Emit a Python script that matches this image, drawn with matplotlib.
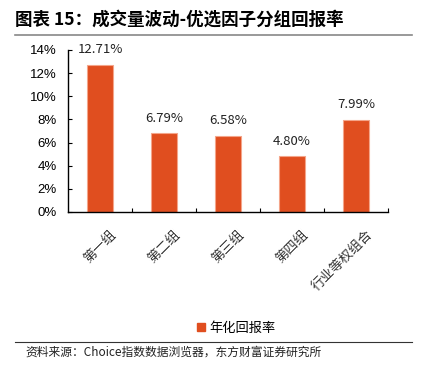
import matplotlib
matplotlib.use('Agg')
from matplotlib import pyplot as plt
from matplotlib.lines import Line2D

plt.rcParams['font.family'] = ['Noto Sans CJK SC', 'DejaVu Sans']

# 数据
groups = ['第一组', '第二组', '第三组', '第四组', '行业等权组合']
returns = [12.71, 6.79, 6.58, 4.80, 7.99]
yticks = [0, 2, 4, 6, 8, 10, 12, 14]
title = '图表 15：成交量波动-优选因子分组回报率'
legendName = '年化回报率'
source = '资料来源：Choice指数数据浏览器，东方财富证券研究所'

barColor = '#E04E1F'

fig = plt.figure(figsize=(4.22, 3.71), dpi=100)
ax = fig.add_axes([68 / 422, 1 - 212 / 371, (388 - 68) / 422, (212 - 50) / 371])

x = range(len(groups))
ax.bar(x, returns, width=0.4, color=barColor, edgecolor='#F4A58A', linewidth=0.8)
for i, v in enumerate(returns):
    ax.text(i, v + 0.75, '%.2f%%' % v, ha='center', va='bottom', fontsize=9.5, color='#222222')

ax.set_xlim(-0.5, len(groups) - 0.5)
ax.set_ylim(0, 14)
ax.set_yticks(yticks)
ax.set_yticklabels(['%d%%' % t for t in yticks], family=['Liberation Sans', 'DejaVu Sans'], fontsize=9.5)
ax.set_xticks([i + 0.5 for i in range(len(groups))])
ax.set_xticklabels([])
ax.tick_params(axis='y', direction='in', length=3, width=0.8, pad=8)
ax.tick_params(axis='x', direction='in', length=3, width=0.8)
for i, g in enumerate(groups):
    ax.text(i + 0.15, -1.4, g, rotation=45, ha='right', va='top', fontsize=9.5,
            color='#333333', rotation_mode='anchor')
for s in ['top', 'right']:
    ax.spines[s].set_visible(False)
ax.spines['left'].set_linewidth(1.0)
ax.spines['bottom'].set_linewidth(1.0)

# 标题与分隔线
fig.text(15 / 422, 1 - 20 / 371, title, fontsize=12.6, fontweight='bold', va='center', ha='left')
fig.add_artist(Line2D([15 / 422, 412 / 422], [1 - 35 / 371, 1 - 35 / 371], color='#888888', linewidth=1.2))
fig.add_artist(Line2D([15 / 422, 412 / 422], [1 - 342 / 371, 1 - 342 / 371], color='#333333', linewidth=0.8))

# 图例
handle = Line2D([], [], marker='s', linestyle='none', color=barColor, markersize=6)
fig.legend([handle], [legendName], loc='center', bbox_to_anchor=(235 / 422, 1 - 328 / 371),
           frameon=False, fontsize=9.5, handletextpad=0.1, handlelength=1.0)

fig.text(25 / 422, 1 - 352 / 371, source, fontsize=8.5, va='center', ha='left', color='#222222')

fig.savefig('out.png', dpi=100)
